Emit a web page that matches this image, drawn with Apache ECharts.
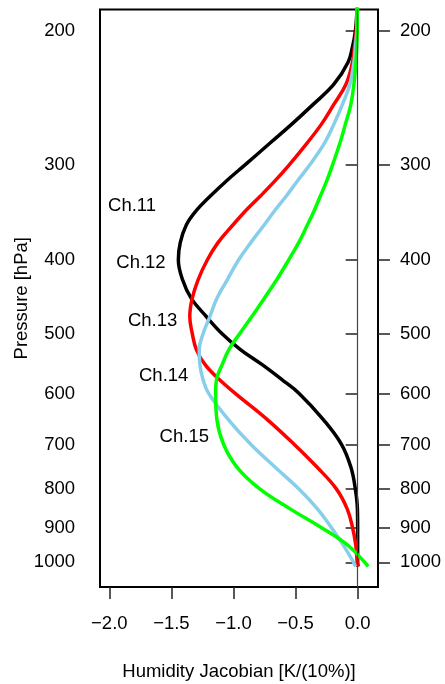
<!DOCTYPE html>
<html>
<head>
<meta charset="utf-8">
<script src="https://cdn.jsdelivr.net/npm/echarts@6/dist/echarts.min.js"></script>
<style>
html,body{margin:0;padding:0;background:#fff;}
#chart{width:445px;height:684px;}
</style>
</head>
<body>
<div id="chart"></div>
<script>
// Pressure levels (hPa)
const pressure = [180,190,200,210,220,235,250,265,280,300,315,330,345,360,380,400,425,450,475,500,525,550,575,600,650,700,750,800,850,900,950,1000,1013];
// Humidity Jacobian [K/(10%)] per curve
const blackCurve = [-0.004,-0.007,-0.018,-0.042,-0.078,-0.191,-0.360,-0.528,-0.696,-0.907,-1.057,-1.188,-1.302,-1.380,-1.429,-1.444,-1.410,-1.339,-1.219,-1.094,-0.944,-0.766,-0.610,-0.469,-0.273,-0.129,-0.054,-0.019,-0.002,0,0,0,0.002];
const redCurve = [-0.003,-0.006,-0.011,-0.026,-0.042,-0.094,-0.193,-0.290,-0.401,-0.551,-0.666,-0.785,-0.904,-1.005,-1.126,-1.210,-1.285,-1.333,-1.352,-1.332,-1.299,-1.227,-1.114,-0.984,-0.723,-0.510,-0.326,-0.173,-0.085,-0.041,-0.015,-0.003,0.005];
const blueCurve = [-0.002,-0.004,-0.007,-0.018,-0.030,-0.062,-0.123,-0.190,-0.262,-0.385,-0.485,-0.576,-0.670,-0.753,-0.862,-0.958,-1.050,-1.135,-1.190,-1.244,-1.276,-1.270,-1.245,-1.199,-1.038,-0.859,-0.664,-0.477,-0.326,-0.212,-0.114,-0.033,-0.018];
const greenCurve = [-0.001,-0.002,-0.003,-0.007,-0.014,-0.030,-0.055,-0.098,-0.140,-0.202,-0.249,-0.301,-0.351,-0.405,-0.476,-0.555,-0.652,-0.754,-0.852,-0.949,-1.037,-1.092,-1.137,-1.144,-1.133,-1.079,-0.971,-0.791,-0.547,-0.294,-0.078,0.057,0.085];
// Tick values
const yTicks = [200,300,400,500,600,700,800,900,1000];
const xTicks = [-2.0,-1.5,-1.0,-0.5,0.0];
// Channel annotations: [x, pressure]
const chNames = ['Ch.11','Ch.12','Ch.13','Ch.14','Ch.15'];
const chX = [-2.01,-1.944,-1.85,-1.761,-1.595];
const chP = [340,404,481,568,685];

const FONT = 'Liberation Sans, Arial, Helvetica, sans-serif';
const FS = 18.5;

function pairs(vals){ return pressure.map((p,i)=>[vals[i], p]); }

const chart = echarts.init(document.getElementById('chart'), null, {renderer:'canvas'});

const yAxisBase = {
  type:'log', logBase:10, inverse:true, min:187.4, max:1077.8,
  axisLine:{show:false},
  splitLine:{show:false},
  axisTick:{show:true, length:12, customValues:yTicks, lineStyle:{color:'#222', width:1.5}},
  axisLabel:{customValues:yTicks, color:'#000', fontSize:FS, fontFamily:FONT, margin:25,
    formatter:v=>String(Math.round(v))}
};

const lineSeries = (name, vals, color) => ({
  name, type:'line', data:pairs(vals), smooth:0.4, showSymbol:false, symbol:'none',
  lineStyle:{color, width:3.5}, clip:true, silent:true, z:3
});

const option = {
  animation:false,
  backgroundColor:'#fff',
  grid:{left:100, right:67, top:9.5, bottom:97, containLabel:false, outerBoundsMode:'none',
    show:true, borderColor:'#000', borderWidth:2, backgroundColor:'transparent'},
  xAxis:{
    type:'value', min:-2.075, max:0.164,
    name:'Humidity Jacobian [K/(10%)]', nameLocation:'middle', nameGap:75, nameMoveOverlap:false,
    nameTextStyle:{color:'#000', fontSize:FS, fontFamily:FONT},
    axisLine:{show:false}, splitLine:{show:false},
    axisTick:{show:true, length:12, customValues:xTicks, lineStyle:{color:'#222', width:1.5}},
    axisLabel:{customValues:xTicks, color:'#000', fontSize:FS, fontFamily:FONT, margin:27,
      formatter:v=>(v<0?'\u2212':'')+Math.abs(v).toFixed(1)}
  },
  yAxis:[
    Object.assign({}, yAxisBase, {position:'left', name:'Pressure [hPa]', nameLocation:'middle', nameGap:69,
      nameMoveOverlap:false,
      nameTextStyle:{color:'#000', fontSize:FS, fontFamily:FONT}}),
    Object.assign({}, yAxisBase, {position:'right', axisLabel:Object.assign({}, yAxisBase.axisLabel, {margin:22})})
  ],
  series:[
    Object.assign(lineSeries('black', blackCurve, '#000000'), {
      markLine:{silent:true, symbol:'none', label:{show:false}, animation:false,
        lineStyle:{color:'#444', width:1.2, type:'solid'}, data:[{xAxis:0}]}
    }),
    lineSeries('red', redCurve, '#FF0000'),
    lineSeries('skyblue', blueCurve, '#87CEEB'),
    lineSeries('green', greenCurve, '#00FF00'),
    {
      type:'scatter', symbolSize:0, silent:true, z:5,
      itemStyle:{opacity:1},
      data:chNames.map((n,i)=>({name:n, value:[chX[i], chP[i]]})),
      label:{show:true, position:'right', distance:0, formatter:p=>p.name, opacity:1,
        color:'#000', textBorderWidth:0, fontSize:FS, fontFamily:FONT}
    }
  ]
};
chart.setOption(option);
</script>
</body>
</html>
